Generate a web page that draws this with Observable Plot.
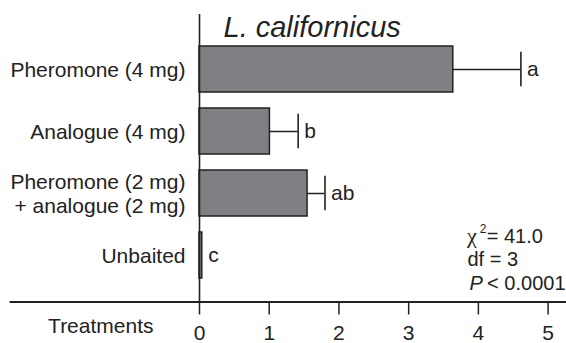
<!DOCTYPE html>
<html><head><meta charset="utf-8">
<script src="https://cdn.jsdelivr.net/npm/d3@7"></script>
<script src="https://cdn.jsdelivr.net/npm/@observablehq/plot@0.6"></script>
<style>body{margin:0;background:#fff}</style>
</head><body><div id="chart"></div>
<script>
const treatments = ["Pheromone (4 mg)", "Analogue (4 mg)", "Pheromone (2 mg)\n+ analogue (2 mg)", "Unbaited"];
const means = [3.64, 1.01, 1.55, 0.04];
const errorTops = [4.61, 1.415, 1.80, 0.04];
const letters = ["a", "b", "ab", "c"];
const xTicks = [0, 1, 2, 3, 4, 5];
const titleText = "L. californicus";
const axisLabel = "Treatments";
const chi2 = "41.0";
const dfValue = "3";
const pValue = "< 0.0001";

const data = treatments.map((t, i) => ({t, mean: means[i], err: errorTops[i], letter: letters[i]}));
const ink = "#222";
const font = "Liberation Sans, Arial, sans-serif";

const chart = Plot.plot({
  width: 566,
  height: 343,
  marginLeft: 199,
  marginRight: 18.4,
  marginTop: 14,
  marginBottom: 41.5,
  style: {fontFamily: font, fontSize: "21px", color: ink, background: "#fff"},
  x: {domain: [0, 5]},
  y: {domain: treatments, paddingInner: 0.254, paddingOuter: 0.43, align: 0.58},
  marks: [
    Plot.barX(data, {x: "mean", y: "t", fill: "#7f8084", stroke: ink, strokeWidth: 1.5}),
    Plot.ruleY(data.filter(d => d.err > d.mean), {y: "t", x1: "mean", x2: "err", stroke: ink, strokeWidth: 1.5}),
    Plot.tickX(data.filter(d => d.err > d.mean), {x: "err", y: "t", insetTop: 5.75, insetBottom: 5.75, stroke: ink, strokeWidth: 1.6}),
    Plot.text(data, {x: "err", y: "t", text: "letter", dx: 6, textAnchor: "start", fontSize: 21, fill: ink}),
    Plot.ruleX([0], {stroke: ink, strokeWidth: 1.6}),
    Plot.frame({anchor: "bottom", insetLeft: -189, insetRight: -18.4, stroke: ink, strokeWidth: 1.8}),
    Plot.axisY({tickSize: 0, tickPadding: 14, fontSize: 21, lineHeight: 1.14, label: null, fill: ink}),
    Plot.axisX(xTicks, {tickSize: 13, tickPadding: 10, fontSize: 21, label: null, stroke: ink, strokeWidth: 1.5, fill: ink}),
    Plot.text([axisLabel], {frameAnchor: "bottom-left", dx: -46, dy: 31, textAnchor: "end", fontSize: 21, fill: ink}),
    Plot.text([titleText], {frameAnchor: "top-left", dx: 24, dy: 22, textAnchor: "start", lineAnchor: "bottom", fontStyle: "italic", fontSize: 29, fill: ink}),
    Plot.text(["χ"], {frameAnchor: "bottom-right", dx: -81, dy: -59.5, textAnchor: "start", fontFamily: "Liberation Serif, serif", fontSize: 22, fill: ink}),
    Plot.text(["2"], {frameAnchor: "bottom-right", dx: -68.4, dy: -69, textAnchor: "start", fontSize: 12, fill: ink}),
    Plot.text([`= ${chi2}`], {frameAnchor: "bottom-right", dx: -61.4, dy: -59.5, textAnchor: "start", fontSize: 20, fill: ink}),
    Plot.text([`df = ${dfValue}`], {frameAnchor: "bottom-right", dx: -80.6, dy: -36, textAnchor: "start", fontSize: 20, fill: ink}),
    Plot.text(["P"], {frameAnchor: "bottom-right", dx: -78.6, dy: -12.5, textAnchor: "start", fontStyle: "italic", fontSize: 20, fill: ink}),
    Plot.text([pValue], {frameAnchor: "bottom-right", dx: -61, dy: -12.5, textAnchor: "start", fontSize: 20, fill: ink})
  ]
});
document.getElementById("chart").append(chart);
</script>
</body></html>
